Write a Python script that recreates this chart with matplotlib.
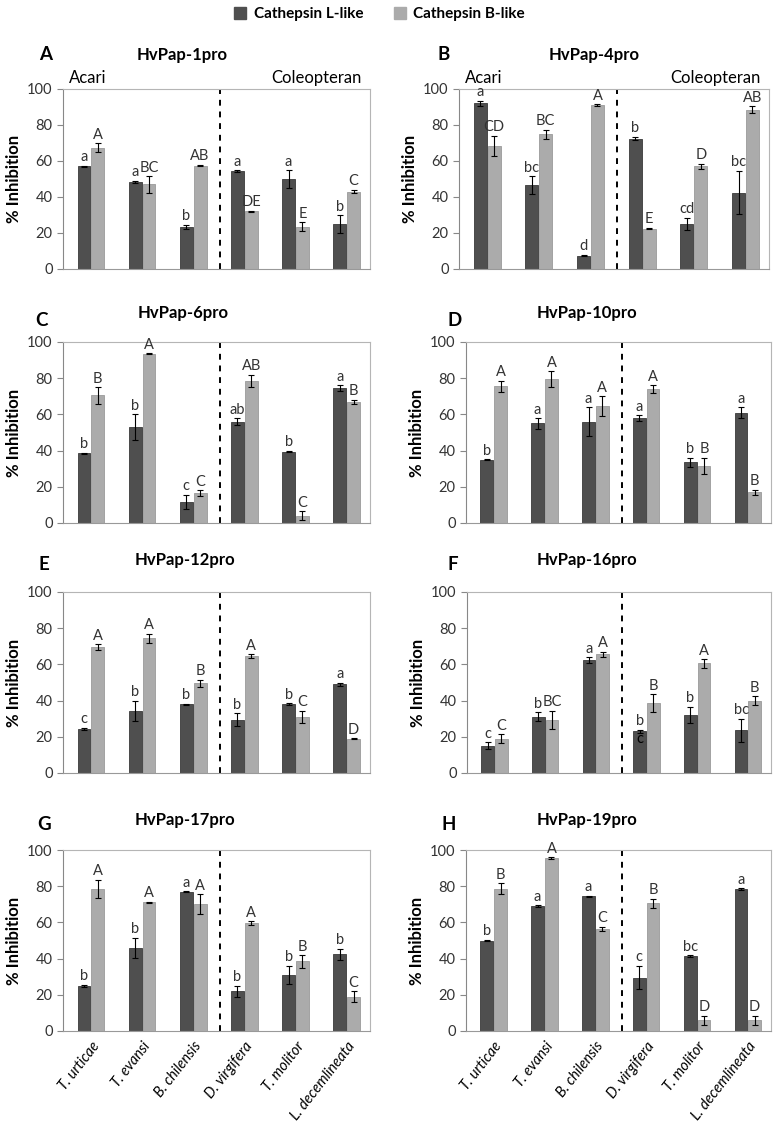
import matplotlib
matplotlib.use("Agg")
import matplotlib.pyplot as plt
from matplotlib.patches import Patch
import numpy as np

plt.rcParams['font.family'] = ['Lato', 'DejaVu Sans']

species = ['T. urticae', 'T. evansi', 'B. chilensis', 'D. virgifera', 'T. molitor', 'L. decemlineata']

# HvPap-1pro
p1_L = [57, 48.5, 23.5, 54.5, 50, 25]
p1_L_err = [0.5, 0.5, 1, 0.5, 5, 5]
p1_B = [67.5, 47, 57.5, 32, 23.5, 43]
p1_B_err = [2.5, 4.5, 0.5, 0.5, 2.5, 1]
p1_L_let = ['a', 'a', 'b', 'a', 'a', 'b']
p1_B_let = ['A', 'BC', 'AB', 'DE', 'E', 'C']

# HvPap-4pro
p4_L = [92, 46.5, 7.5, 72.5, 25, 42.5]
p4_L_err = [1.5, 5, 0.5, 1, 3.5, 12]
p4_B = [68.5, 75, 91, 22.5, 57, 88.5]
p4_B_err = [5.5, 2.5, 0.5, 0.5, 1.5, 2]
p4_L_let = ['a', 'bc', 'd', 'b', 'cd', 'bc']
p4_B_let = ['CD', 'BC', 'A', 'E', 'D', 'AB']

# HvPap-6pro
p6_L = [38.5, 53, 11.5, 56, 39.5, 74.5]
p6_L_err = [0.3, 7, 4, 2, 0.5, 1.5]
p6_B = [70.5, 93.5, 16.5, 78.5, 4, 67]
p6_B_err = [4.5, 0.3, 1.5, 3.5, 2.5, 1.2]
p6_L_let = ['b', 'b', 'c', 'ab', 'b', 'a']
p6_B_let = ['B', 'A', 'C', 'AB', 'C', 'B']

# HvPap-10pro
p10_L = [35, 55, 56, 58, 33.5, 61]
p10_L_err = [0.3, 3, 8, 1.5, 2.5, 3]
p10_B = [75.5, 79.5, 64.5, 74, 31.5, 17]
p10_B_err = [3, 4.5, 5.5, 2, 4.5, 1.5]
p10_L_let = ['b', 'a', 'a', 'a', 'b', 'a']
p10_B_let = ['A', 'A', 'A', 'A', 'B', 'B']

# HvPap-12pro
p12_L = [24.5, 34.5, 38, 29.5, 38, 49]
p12_L_err = [0.5, 5.5, 0.3, 3.5, 0.5, 1]
p12_B = [69.5, 74.5, 49.5, 64.5, 31, 19]
p12_B_err = [1.5, 2.5, 2, 1, 3.5, 0.3]
p12_L_let = ['c', 'b', 'b', 'b', 'b', 'a']
p12_B_let = ['A', 'A', 'B', 'A', 'C', 'D']

# HvPap-16pro
p16_L = [15, 31, 62.5, 23, 32, 23.5]
p16_L_err = [2, 2.5, 1.5, 1, 4.5, 6.5]
p16_B = [19, 29.5, 65.5, 38.5, 60.5, 40]
p16_B_err = [2.5, 5, 1.5, 5, 2.5, 2.5]
p16_L_let = ['c', 'b', 'a', 'b', 'b', 'bc']
p16_B_let = ['C', 'BC', 'A', 'B', 'A', 'B']

# HvPap-17pro
p17_L = [25, 46, 77, 22, 31, 42.5]
p17_L_err = [0.5, 5.5, 0.3, 3, 5, 3]
p17_B = [78.5, 71, 70, 59.5, 38.5, 19]
p17_B_err = [5, 0.5, 5.5, 1, 3.5, 3]
p17_L_let = ['b', 'b', 'a', 'b', 'b', 'b']
p17_B_let = ['A', 'A', 'A', 'A', 'B', 'C']

# HvPap-19pro
p19_L = [50, 69, 74.5, 29.5, 41.5, 78.5]
p19_L_err = [0.5, 0.5, 0.3, 6.5, 0.5, 0.5]
p19_B = [78.5, 95.5, 56.5, 70.5, 6, 6]
p19_B_err = [3, 0.5, 1, 2.5, 2.5, 2.5]
p19_L_let = ['b', 'a', 'a', 'c', 'bc', 'a']
p19_B_let = ['B', 'A', 'C', 'B', 'D', 'D']

panel_letters = ['A', 'B', 'C', 'D', 'E', 'F', 'G', 'H']
panel_titles = ['HvPap-1pro', 'HvPap-4pro', 'HvPap-6pro', 'HvPap-10pro',
                'HvPap-12pro', 'HvPap-16pro', 'HvPap-17pro', 'HvPap-19pro']

panels = [
    (p1_L, p1_L_err, p1_B, p1_B_err, p1_L_let, p1_B_let),
    (p4_L, p4_L_err, p4_B, p4_B_err, p4_L_let, p4_B_let),
    (p6_L, p6_L_err, p6_B, p6_B_err, p6_L_let, p6_B_let),
    (p10_L, p10_L_err, p10_B, p10_B_err, p10_L_let, p10_B_let),
    (p12_L, p12_L_err, p12_B, p12_B_err, p12_L_let, p12_B_let),
    (p16_L, p16_L_err, p16_B, p16_B_err, p16_L_let, p16_B_let),
    (p17_L, p17_L_err, p17_B, p17_B_err, p17_L_let, p17_B_let),
    (p19_L, p19_L_err, p19_B, p19_B_err, p19_L_let, p19_B_let),
]

W, H = 779, 1132
DARK = '#4f4f4f'
LIGHT = '#ababab'

# axes boxes in pixels: left, right, top, bottom
boxes = [(63, 370, 89, 269), (459, 769, 89, 269),
         (63, 370, 342, 523), (466, 771, 342, 523),
         (63, 370, 592, 773), (467, 771, 592, 773),
         (63, 370, 850, 1031), (466, 771, 850, 1031)]
title_y = [55, 55, 313, 313, 560, 560, 820, 820]
letter_y = [55, 55, 320, 320, 565, 565, 825, 825]
title_x = [182, 594, 183, 587, 185, 587, 185, 587]
letter_x = [46, 444, 42, 455, 44, 453, 44, 449]

fig = plt.figure(figsize=(W / 100, H / 100), dpi=100)
x = np.arange(len(species))
bw = 0.25

for k, (Lv, Le, Bv, Be, Llet, Blet) in enumerate(panels):
    l, r, t, b = boxes[k]
    ax = fig.add_axes([l / W, 1 - b / H, (r - l) / W, (b - t) / H])
    xl = x - 0.09
    xb = x + 0.18
    ax.bar(xl, Lv, bw, color=DARK, edgecolor='#3a3a3a', linewidth=0.6, zorder=2)
    ax.bar(xb, Bv, bw, color=LIGHT, edgecolor='#9a9a9a', linewidth=0.6, zorder=2)
    ax.errorbar(xl, Lv, yerr=Le, fmt='none', ecolor='black', elinewidth=0.8, capsize=2.5, capthick=0.8, zorder=3)
    ax.errorbar(xb, Bv, yerr=Be, fmt='none', ecolor='black', elinewidth=0.8, capsize=2.5, capthick=0.8, zorder=3)
    for i in range(len(species)):
        ax.text(xl[i], Lv[i] + Le[i] + 0.8, Llet[i], ha='center', va='bottom', fontsize=10.5, color='#333333')
        ax.text(xb[i], Bv[i] + Be[i] + 0.8, Blet[i], ha='center', va='bottom', fontsize=10.5, color='#333333')
    if k == 5:
        # stray label inside the D. virgifera bar
        ax.text(xl[3], Lv[3] - 4, 'c', ha='center', va='center', fontsize=10.5, color='black', zorder=4)
    ax.axvline(2.56, color='black', linestyle=(0, (3, 3)), linewidth=1.4, zorder=1)
    ax.set_xlim(-0.5, 5.5)
    ax.set_ylim(0, 100)
    ax.set_yticks(np.arange(0, 101, 20))
    ax.tick_params(axis='y', direction='out', length=4, labelsize=10.5, colors='#333333', width=0.8)
    ax.tick_params(axis='y', color='#888888')
    for side in ['top', 'right']:
        ax.spines[side].set_color('#b5b5b5')
    ax.spines['left'].set_color('#888888')
    ax.spines['bottom'].set_color('#999999')
    ax.set_ylabel('% Inhibition', fontsize=12, fontweight='bold', labelpad=4)
    if k >= 6:
        ax.set_xticks(x + 0.05)
        ax.set_xticklabels(species, rotation=52, ha='right', rotation_mode='anchor',
                           fontsize=10.5, fontstyle='italic')
        ax.tick_params(axis='x', length=0, pad=6)
    else:
        ax.set_xticks([])
    if k < 2:
        fig.text((l + 6) / W, 1 - 78 / H, 'Acari', fontsize=12, va='center', ha='left')
        fig.text((r - 8) / W, 1 - 78 / H, 'Coleopteran', fontsize=12, va='center', ha='right')
    fig.text(title_x[k] / W, 1 - title_y[k] / H, panel_titles[k], fontsize=12,
             fontweight='bold', ha='center', va='center')
    fig.text(letter_x[k] / W, 1 - letter_y[k] / H, panel_letters[k], fontsize=13.5,
             fontweight='bold', ha='center', va='center')

handles = [Patch(facecolor=DARK, edgecolor=DARK), Patch(facecolor=LIGHT, edgecolor=LIGHT)]
fig.legend(handles, ['Cathepsin L-like', 'Cathepsin B-like'], loc='center', ncol=2,
           bbox_to_anchor=(0.487, 1 - 14 / H), frameon=False, handlelength=0.8,
           handleheight=0.8, columnspacing=2.0, handletextpad=0.5,
           prop={'weight': 'bold', 'size': 11})

fig.savefig('out.png', dpi=100)
